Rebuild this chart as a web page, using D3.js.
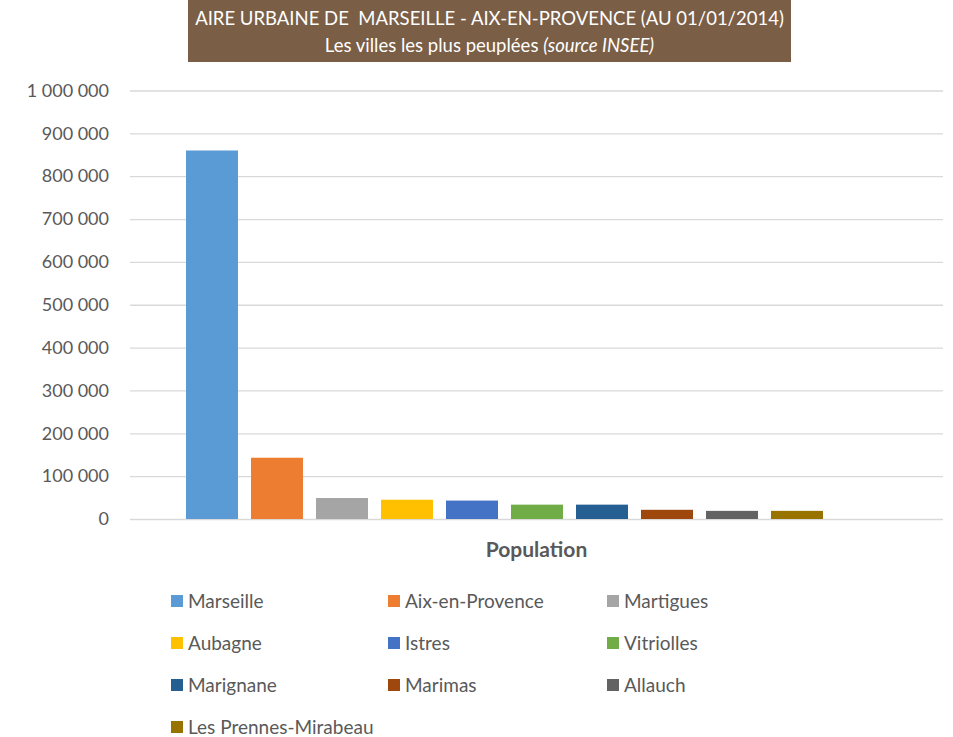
<!DOCTYPE html>
<html>
<head>
<meta charset="utf-8">
<script src="https://cdn.jsdelivr.net/npm/d3@7"></script>
<style>
  body { margin: 0; background: #fff; }
  text { font-family: Lato, "Open Sans", sans-serif; white-space: pre; }
</style>
</head>
<body>
<svg id="chart" width="953" height="737"></svg>
<script>
var cities = ["Marseille", "Aix-en-Provence", "Martigues", "Aubagne", "Istres", "Vitriolles",
              "Marignane", "Marimas", "Allauch", "Les Prennes-Mirabeau"];
var population = [860000, 143000, 49000, 45000, 43000, 33500, 33500, 21500, 19000, 19000];
var colors = ["#5b9bd5", "#ed7d31", "#a5a5a5", "#ffc000", "#4472c4", "#70ad47",
              "#255e91", "#9e480e", "#636363", "#997300"];
var yTicks = [0, 100000, 200000, 300000, 400000, 500000, 600000, 700000, 800000, 900000, 1000000];

var svg = d3.select("#chart"),
    plotLeft = 130, plotRight = 943, plotTop = 90.5, plotBottom = 519;

var y = d3.scaleLinear().domain([0, 1000000]).range([plotBottom, plotTop]);
var x = d3.scaleBand().domain(cities).range([179.5, 829.5]).paddingInner(0.2).paddingOuter(0.1);
var fmt = function(d) { return d3.format(",")(d).replace(/,/g, " "); };

// title box
svg.append("rect").attr("x", 188).attr("y", 0).attr("width", 603).attr("height", 62).attr("fill", "#7a5e46");
svg.append("text").attr("x", 489.5).attr("y", 25).attr("text-anchor", "middle")
    .attr("fill", "#fff").style("font-size", "18.5px")
    .text("AIRE URBAINE DE  MARSEILLE - AIX-EN-PROVENCE (AU 01/01/2014)");
var t2 = svg.append("text").attr("x", 489.5).attr("y", 52).attr("text-anchor", "middle")
    .attr("fill", "#fff").style("font-size", "18.5px");
t2.append("tspan").text("Les villes les plus peuplées ");
t2.append("tspan").style("font-style", "italic").text("(source INSEE)");

// grid + y labels
var axis = svg.append("g").attr("transform", "translate(" + plotLeft + ",0)")
    .call(d3.axisLeft(y).tickValues(yTicks).tickFormat(fmt).tickSize(-(plotRight - plotLeft)).tickPadding(21));
axis.select(".domain").remove();
axis.selectAll("line").attr("stroke", "#d9d9d9").attr("stroke-width", 1.3);
axis.selectAll("text").attr("fill", "#595959").style("font-size", "18px")
    .style("font-family", "Lato, 'Open Sans', sans-serif");

// bars
svg.selectAll(".bar").data(cities).enter().append("rect")
    .attr("class", "bar")
    .attr("x", function(d) { return x(d); })
    .attr("width", x.bandwidth())
    .attr("y", function(d, i) { return y(population[i]); })
    .attr("height", function(d, i) { return plotBottom - y(population[i]); })
    .attr("fill", function(d, i) { return colors[i]; });

// category label
svg.append("text").attr("x", 536.5).attr("y", 557).attr("text-anchor", "middle")
    .attr("fill", "#595959").style("font-size", "21px").style("font-weight", "bold")
    .text("Population");

// legend
var colX = [171, 388, 607], rowY = 601, rowH = 42;
var leg = svg.selectAll(".leg").data(cities).enter().append("g")
    .attr("class", "leg")
    .attr("transform", function(d, i) {
        return "translate(" + colX[i % 3] + "," + (rowY + Math.floor(i / 3) * rowH) + ")";
    });
leg.append("rect").attr("x", 0).attr("y", -6).attr("width", 12).attr("height", 12)
    .attr("fill", function(d, i) { return colors[i]; });
leg.append("text").attr("x", 17).attr("y", 7).attr("fill", "#595959")
    .style("font-size", "19px").text(function(d) { return d; });
</script>
</body>
</html>
